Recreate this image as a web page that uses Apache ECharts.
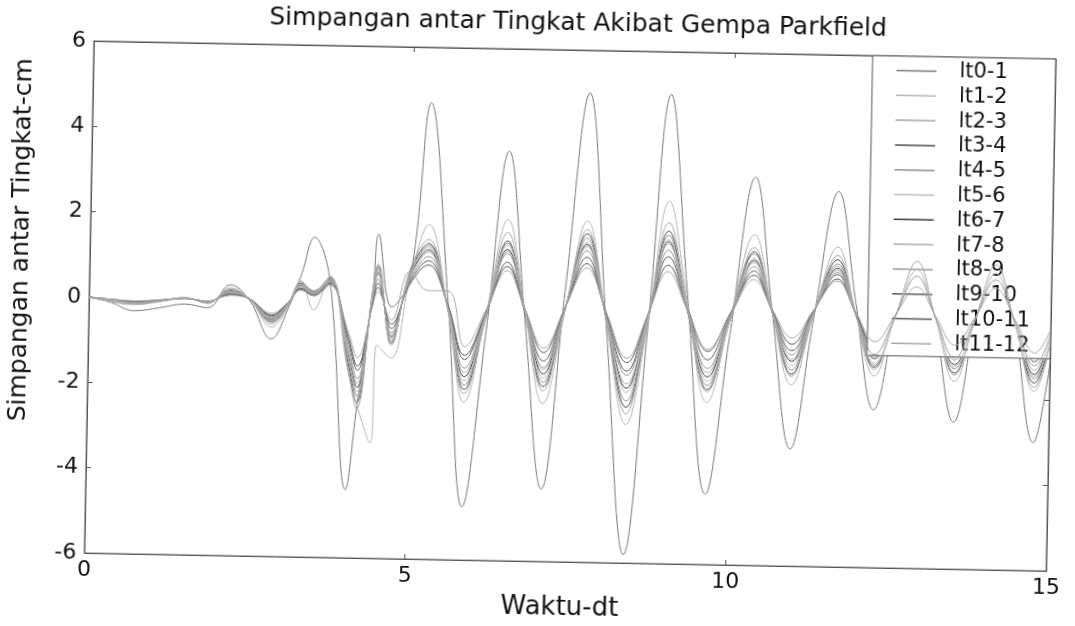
<!DOCTYPE html>
<html>
<head>
<meta charset="utf-8">
<script src="https://cdn.jsdelivr.net/npm/echarts@6/dist/echarts.min.js"></script>
<style>
  html, body { margin: 0; padding: 0; background: #fff; overflow: hidden; }
  /* the printed figure sits slightly tilted on the page */
  #chart { width: 1075px; height: 626px; transform: rotate(1.07deg); transform-origin: 570px 309.5px; }
</style>
</head>
<body>
<div id="chart"></div>
<script>
// time (s) of the sampled turning points
const waktu = [0, 0.35, 0.7, 1.1, 1.5, 1.85, 2.2, 2.5, 2.85, 3.1, 3.3, 3.5, 3.75, 4.05, 4.2, 4.42, 4.5, 4.72, 5.0, 5.28,
  5.6, 5.87, 6.2, 6.51, 6.8, 7.1, 7.42, 7.75, 8.07, 8.4, 8.72, 9.02, 9.33, 9.66, 10.0, 10.36, 10.65, 10.97, 11.3, 11.66,
  11.95, 12.26, 12.58, 12.9, 13.2, 13.51, 13.82, 14.13, 14.45, 14.76, 15];

// interstory drift (cm) for each storey pair
const lt0_1 = [0, -0.12, -0.3, -0.22, -0.12, -0.2, 0.35, 0.0, -0.9, -0.2, 0.6, 1.5, 0.5, -4.4, -2.5, 0.2, 1.6, -0.1, 0.6, 4.7,
  0.0, -4.75, -0.6, 3.6, -0.35, -4.3, 0.35, 5.0, -0.45, -5.8, -0.45, 5.0, 0.3, -4.35, -0.6, 3.1, 0.0, -3.25, -0.2, 2.8,
  0.25, -2.3, 0.05, 2.4, -0.1, -2.55, 0.0, 2.6, -0.2, -3.0, -1.1];
const lt1_2 = [0, -0.1, -0.16, -0.08, 0.03, -0.1, 0.28, 0.02, -0.62, -0.15, 0.48, -0.2, 0.6, -1.6, -2.4, -3.3, -1.0, -1.3, 0.6, 1.85,
  -0.2, -2.3, -0.15, 2.0, -0.15, -2.3, -0.15, 2.0, -0.35, -2.75, -0.35, 2.5, 0.15, -2.2, -0.2, 1.75, 0.0, -1.75, -0.1, 1.5,
  0.0, -1.5, -0.05, 1.4, -0.1, -1.6, -0.15, 1.3, -0.25, -1.8, -0.7];
const lt2_3 = [0, -0.08, -0.14, -0.07, 0.03, -0.09, 0.25, 0.02, -0.55, -0.12, 0.45, 0.25, 0.58, -1.5, -2.5, 0.3, 0.9, -1.0, 0.8, 1.5,
  -0.15, -2.1, -0.2, 1.7, -0.15, -2.0, -0.1, 1.8, -0.35, -2.5, -0.25, 2.0, 0.05, -1.95, -0.2, 1.45, -0.05, -1.55, -0.05, 1.3,
  -0.02, -1.35, -0.07, 1.2, -0.12, -1.45, -0.15, 1.15, -0.27, -1.7, -0.65];
const lt3_4 = [0, -0.08, -0.13, -0.07, 0.02, -0.08, 0.22, 0.03, -0.5, -0.1, 0.42, 0.22, 0.56, -1.4, -2.35, 0.25, 0.85, -0.95, 0.75, 1.4,
  -0.15, -2.0, -0.25, 1.5, -0.2, -1.9, -0.1, 1.7, -0.3, -2.35, -0.3, 1.8, -0.05, -1.9, -0.25, 1.35, -0.05, -1.5, -0.08, 1.2,
  -0.05, -1.3, -0.1, 1.1, -0.15, -1.4, -0.15, 1.1, -0.25, -1.6, -0.6];
const lt4_5 = [0, -0.07, -0.12, -0.06, 0.02, -0.08, 0.2, 0.03, -0.48, -0.1, 0.4, 0.2, 0.55, -1.3, -2.2, 0.2, 0.8, -0.9, 0.7, 1.35,
  -0.12, -1.9, -0.22, 1.45, -0.2, -1.8, -0.1, 1.6, -0.3, -2.2, -0.25, 1.7, -0.05, -1.8, -0.2, 1.3, -0.05, -1.4, -0.05, 1.1,
  -0.05, -1.25, -0.1, 1.05, -0.12, -1.3, -0.15, 1.0, -0.25, -1.5, -0.58];
const lt5_6 = [0, -0.07, -0.12, -0.06, 0.02, -0.07, 0.19, 0.03, -0.46, -0.08, 0.38, 0.2, 0.54, -1.25, -2.1, 0.2, 0.75, -0.85, 0.7, 1.3,
  -0.12, -1.8, -0.2, 1.4, -0.15, -1.7, -0.1, 1.5, -0.3, -2.0, -0.25, 1.6, -0.05, -1.7, -0.25, 1.2, -0.05, -1.3, -0.05, 1.05,
  -0.05, -1.2, -0.1, 1.0, -0.12, -1.25, -0.15, 0.95, -0.25, -1.45, -0.55];
const lt6_7 = [0, -0.06, -0.11, -0.05, 0.02, -0.07, 0.18, 0.03, -0.44, -0.08, 0.37, 0.18, 0.52, -1.2, -2.0, 0.15, 0.7, -0.8, 0.65, 1.25,
  -0.1, -1.7, -0.2, 1.3, -0.15, -1.6, -0.08, 1.45, -0.25, -1.9, -0.2, 1.55, -0.05, -1.6, -0.2, 1.15, -0.03, -1.2, -0.03, 1.0,
  -0.05, -1.1, -0.08, 0.95, -0.12, -1.2, -0.15, 0.9, -0.25, -1.4, -0.52];
const lt7_8 = [0, -0.06, -0.1, -0.05, 0.01, -0.06, 0.17, 0.03, -0.42, -0.07, 0.35, 0.18, 0.5, -1.1, -1.9, 0.1, 0.65, -0.75, 0.6, 1.2,
  -0.1, -1.6, -0.18, 1.25, -0.12, -1.5, -0.05, 1.4, -0.25, -1.8, -0.2, 1.5, 0.0, -1.5, -0.2, 1.1, -0.03, -1.15, -0.03, 0.95,
  -0.05, -1.05, -0.07, 0.9, -0.1, -1.1, -0.12, 0.85, -0.22, -1.3, -0.5];
const lt8_9 = [0, -0.05, -0.1, -0.05, 0.01, -0.06, 0.16, 0.03, -0.4, -0.06, 0.33, 0.16, 0.48, -1.0, -1.8, 0.05, 0.55, -0.7, 0.55, 1.1,
  -0.08, -1.5, -0.15, 1.2, -0.1, -1.45, -0.05, 1.3, -0.25, -1.6, -0.15, 1.35, -0.05, -1.4, -0.2, 1.0, -0.02, -1.05, -0.03, 0.9,
  -0.05, -1.0, -0.07, 0.85, -0.1, -1.05, -0.12, 0.8, -0.2, -1.2, -0.46];
const lt9_10 = [0, -0.05, -0.09, -0.04, 0.01, -0.05, 0.14, 0.03, -0.37, -0.05, 0.3, 0.15, 0.45, -0.9, -1.6, 0.0, 0.45, -0.6, 0.5, 1.0,
  -0.05, -1.3, -0.15, 1.0, -0.15, -1.3, -0.05, 1.15, -0.2, -1.5, -0.15, 1.2, 0.0, -1.2, -0.15, 0.9, -0.03, -0.95, -0.03, 0.85,
  -0.02, -0.9, -0.05, 0.8, -0.08, -0.95, -0.1, 0.75, -0.18, -1.1, -0.42];
const lt10_11 = [0, -0.04, -0.08, -0.04, 0.01, -0.05, 0.12, 0.03, -0.34, -0.05, 0.28, 0.14, 0.42, -0.8, -1.5, -0.05, 0.35, -0.5, 0.45, 0.9,
  -0.05, -1.2, -0.15, 0.9, -0.1, -1.1, -0.05, 1.0, -0.15, -1.3, -0.15, 1.0, 0.0, -1.0, -0.1, 0.8, 0.0, -0.8, 0.0, 0.75,
  -0.02, -0.8, -0.05, 0.7, -0.08, -0.85, -0.1, 0.65, -0.17, -1.0, -0.38];
const lt11_12 = [0, -0.04, -0.07, -0.03, 0.01, -0.04, 0.1, 0.03, -0.3, -0.04, 0.25, 0.12, 0.38, -0.7, -1.3, -0.1, 0.25, -0.4, 0.75, 0.3,
  0.3, -1.0, -0.1, 0.8, -0.1, -1.0, -0.05, 0.9, -0.15, -1.2, -0.15, 0.85, -0.05, -0.95, -0.15, 0.7, 0.02, -0.65, 0.02, 0.7,
  0.0, -0.7, -0.05, 0.6, -0.07, -0.75, -0.08, 0.6, -0.15, -0.9, -0.35];

const seriesNames = ['lt0-1', 'lt1-2', 'lt2-3', 'lt3-4', 'lt4-5', 'lt5-6', 'lt6-7', 'lt7-8', 'lt8-9', 'lt9-10', 'lt10-11', 'lt11-12'];
const seriesValues = [lt0_1, lt1_2, lt2_3, lt3_4, lt4_5, lt5_6, lt6_7, lt7_8, lt8_9, lt9_10, lt10_11, lt11_12];
const lineColors = ['#7a7a7a', '#b5b5b5', '#a6a6a6', '#4a4a4a', '#8e8e8e', '#bababa', '#3a3a3a', '#acacac', '#989898', '#5a5a5a', '#555555', '#a8a8a8'];

const xTicks = [0, 5, 10, 15];
const yTicks = [-6, -4, -2, 0, 2, 4, 6];

const FONT = 'DejaVu Sans';
const INK = '#111';
const FRAME = '#555';

const series = seriesNames.map((name, k) => ({
  name: name,
  type: 'line',
  data: waktu.map((t, i) => [t, seriesValues[k][i]]),
  smooth: 0.4,
  symbol: 'none',
  showSymbol: false,
  lineStyle: { color: lineColors[k], width: 1 },
  itemStyle: { color: lineColors[k] },
  z: 2 + (k % 3)
}));

const chart = echarts.init(document.getElementById('chart'), null, { renderer: 'canvas' });

const axisCommon = {
  splitLine: { show: false },
  axisLine: { show: true, onZero: false, lineStyle: { color: FRAME, width: 1 } },
  axisTick: { show: true, inside: true, length: 5, lineStyle: { color: FRAME } }
};

chart.setOption({
  animation: false,
  backgroundColor: '#fff',
  color: lineColors,
  title: {
    text: 'Simpangan antar Tingkat Akibat Gempa Parkfield',
    left: 264,
    top: 11,
    padding: 0,
    textStyle: { fontFamily: FONT, fontSize: 25, fontWeight: 'normal', color: INK }
  },
  grid: {
    left: 89, top: 50, width: 962, height: 519,
    show: true, borderColor: FRAME, borderWidth: 1, backgroundColor: '#fff'
  },
  legend: {
    data: seriesNames,
    orient: 'vertical',
    right: 24,
    top: 50,
    padding: [4, 21, 2, 24],
    itemGap: 3.8,
    itemWidth: 40,
    itemHeight: 1.5,
    icon: 'rect',
    itemStyle: { borderWidth: 0 },
    backgroundColor: '#fff',
    borderColor: FRAME,
    borderWidth: 1,
    borderRadius: 0,
    selectedMode: false,
    textStyle: { fontFamily: FONT, fontSize: 21, color: INK, padding: [0, 0, 0, 18] }
  },
  xAxis: [
    Object.assign({}, axisCommon, {
      type: 'value', position: 'bottom',
      min: xTicks[0], max: xTicks[xTicks.length - 1], interval: xTicks[1] - xTicks[0],
      name: 'Waktu-dt', nameLocation: 'middle', nameGap: 23,
      nameTextStyle: { fontFamily: FONT, fontSize: 26, color: INK, padding: [0, 10, 0, 0] },
      axisLabel: { fontFamily: FONT, fontSize: 22, color: INK, margin: 6 }
    }),
    Object.assign({}, axisCommon, {
      type: 'value', position: 'top',
      min: xTicks[0], max: xTicks[xTicks.length - 1], interval: xTicks[1] - xTicks[0],
      axisLabel: { show: false }
    })
  ],
  yAxis: [
    Object.assign({}, axisCommon, {
      type: 'value', position: 'left',
      min: yTicks[0], max: yTicks[yTicks.length - 1], interval: yTicks[1] - yTicks[0],
      name: 'Simpangan antar Tingkat-cm', nameLocation: 'middle', nameGap: 56,
      nameTextStyle: { fontFamily: FONT, fontSize: 25, color: INK, padding: [0, 0, 0, 112] },
      axisLabel: { fontFamily: FONT, fontSize: 22, color: INK, margin: 8 }
    }),
    Object.assign({}, axisCommon, {
      type: 'value', position: 'right',
      min: yTicks[0], max: yTicks[yTicks.length - 1], interval: yTicks[1] - yTicks[0],
      axisLabel: { show: false }
    })
  ],
  series: series
});
</script>
</body>
</html>
